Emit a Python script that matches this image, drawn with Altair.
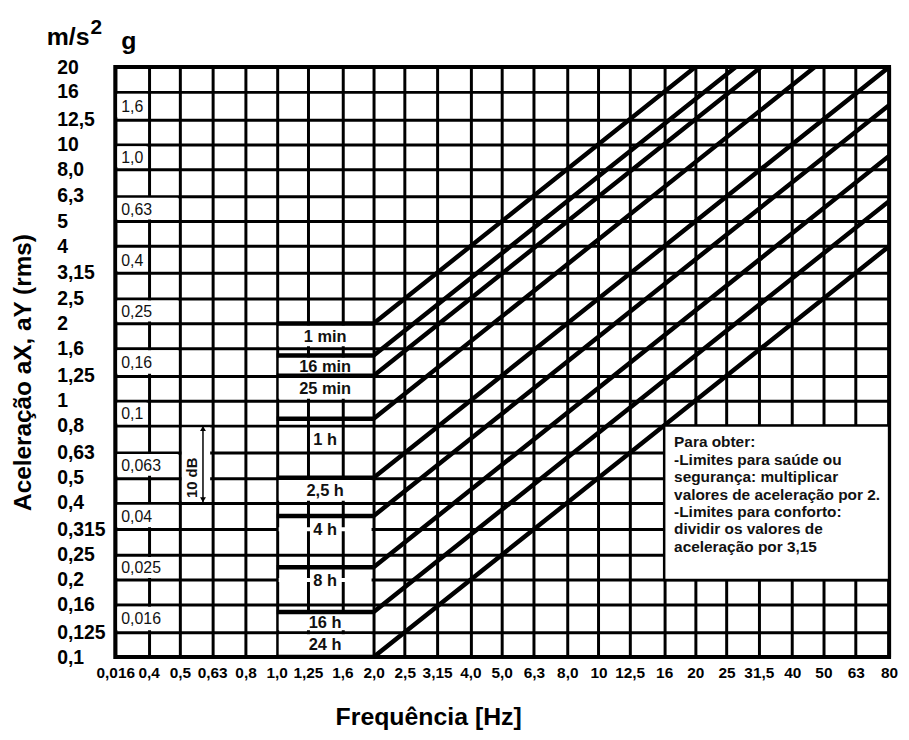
import json
import math
import altair as alt
import pandas as pd

FONT = "Liberation Sans"

# ---------------- axes ----------------
freq_ticks = [0.315, 0.4, 0.5, 0.63, 0.8, 1.0, 1.25, 1.6, 2.0, 2.5, 3.15, 4.0, 5.0,
              6.3, 8.0, 10, 12.5, 16, 20, 25, 31.5, 40, 50, 63, 80]
freq_labels = ["0,016", "0,4", "0,5", "0,63", "0,8", "1,0", "1,25", "1,6", "2,0", "2,5",
               "3,15", "4,0", "5,0", "6,3", "8,0", "10", "12,5", "16", "20", "25",
               "31,5", "40", "50", "63", "80"]
acc_ticks = [20, 16, 12.5, 10, 8, 6.3, 5, 4, 3.15, 2.5, 2, 1.6, 1.25, 1, 0.8, 0.63,
             0.5, 0.4, 0.315, 0.25, 0.2, 0.16, 0.125, 0.1]
acc_labels = ["20", "16", "12,5", "10", "8,0", "6,3", "5", "4", "3,15", "2,5", "2",
              "1,6", "1,25", "1", "0,8", "0,63", "0,5", "0,4", "0,315", "0,25", "0,2",
              "0,16", "0,125", "0,1"]

# ---------------- exposure curves ----------------
curve_names = ["1 min", "16 min", "25 min", "1 h", "2,5 h", "4 h", "8 h", "16 h", "24 h"]
curve_level = [2.0, 1.5, 1.25, 0.85, 0.5, 0.355, 0.224, 0.15, 0.1]   # 1-2 Hz plateau
curve_end_f = [20, 26.7, 32, 47, 80, 80, 80, 80, 80]                 # where line leaves chart
curve_end_a = [20, 20, 20, 20, 20, 14.2, 9.0, 6.0, 4.0]
plateau_f = [1.0, 2.0]
curve_label_a = [1.79, 1.37, 1.12, 0.71, 0.447, 0.315, 0.2, 0.137, 0.112]

# white label boxes in the 1-2 Hz band
tbox_top = [2.0, 1.5, 1.25, 0.5, 0.15, 0.125]
tbox_bottom = [1.6, 1.25, 1.0, 0.4, 0.125, 0.1]
hidden_rows = [0.315, 0.2]

# ---------------- g column ----------------
g_labels = ["1,6", "1,0", "0,63", "0,4", "0,25", "0,16", "0,1", "0,063", "0,04", "0,025", "0,016"]
g_row_top = [16, 10, 6.3, 4, 2.5, 1.6, 1.0, 0.63, 0.4, 0.25, 0.16]
g_row_bottom = [12.5, 8, 5, 3.15, 2, 1.25, 0.8, 0.5, 0.315, 0.2, 0.125]
g_col_right = [0.4, 0.4, 0.5, 0.4, 0.5, 0.5, 0.4, 0.5, 0.5, 0.5, 0.5]

note_lines = ["Para obter:",
              "-Limites para saúde ou",
              "segurança: multiplicar",
              "valores de aceleração por 2.",
              "-Limites para conforto:",
              "dividir os valores de",
              "aceleração por 3,15"]

# ---------------- data frames ----------------
rows = []
for n, lv, ef, ea in zip(curve_names, curve_level, curve_end_f, curve_end_a):
    for f in plateau_f:
        rows.append({"curve": n, "f": f, "a": lv})
    rows.append({"curve": n, "f": ef, "a": ea})
curves_df = pd.DataFrame(rows)

box_rows = []
for top, bot, cr in zip(g_row_top, g_row_bottom, g_col_right):
    box_rows.append({"f1": freq_ticks[0], "f2": cr, "a1": top, "a2": bot})
for top, bot in zip(tbox_top, tbox_bottom):
    box_rows.append({"f1": 1.0, "f2": 2.0, "a1": top, "a2": bot})
box_rows.append({"f1": 0.5, "f2": 0.63, "a1": 0.8, "a2": 0.4})  # behind the 10 dB marker
boxes_df = pd.DataFrame(box_rows)

hidden_df = pd.DataFrame({"f1": [1.0] * len(hidden_rows), "f2": [2.0] * len(hidden_rows),
                          "a": hidden_rows})

g_text_df = pd.DataFrame({"t": g_labels, "f": [freq_ticks[0]] * len(g_labels),
                          "a": [math.sqrt(t * b) for t, b in zip(g_row_top, g_row_bottom)]})
t_text_df = pd.DataFrame({"t": curve_names, "f": [math.sqrt(2.0)] * len(curve_names),
                          "a": curve_label_a})
note_df = pd.DataFrame({"f1": [16], "f2": [80], "a1": [0.8], "a2": [0.2],
                        "t": ["\n".join(note_lines)]})
db_df = pd.DataFrame({"f": [0.545], "a": [0.5], "t": ["10 dB"]})
arrow_df = pd.DataFrame({"f": [0.59], "a1": [0.8], "a2": [0.4]})
head_up_df = pd.DataFrame({"f": [0.59], "a": [0.8]})
head_dn_df = pd.DataFrame({"f": [0.59], "a": [0.4]})

# ---------------- scales / axes ----------------
x_scale = alt.Scale(type="log", domain=[0.315, 80], nice=False)
y_scale = alt.Scale(type="log", domain=[0.1, 20], nice=False)

x_axis = alt.Axis(
    values=freq_ticks,
    labelExpr=f"{json.dumps(freq_labels)}[indexof({json.dumps(freq_ticks)}, datum.value)]",
    grid=True, gridColor="#000", gridWidth=3, gridOpacity=1,
    domain=False, ticks=False, tickSize=0,
    labelFont=FONT, labelFontSize=15.5, labelFontWeight="bold", labelColor="#000",
    labelPadding=9, labelFlush=False, labelOverlap=False,
    title="Frequência [Hz]", titleFont=FONT, titleFontSize=25, titleFontWeight="bold",
    titleColor="#000", titleX=315, titleY=68, titleAlign="center",
    titleBaseline="alphabetic", titleAngle=0)
y_axis = alt.Axis(
    values=acc_ticks,
    labelExpr=f"{json.dumps(acc_labels)}[indexof({json.dumps(acc_ticks)}, datum.value)]",
    grid=True, gridColor="#000", gridWidth=3, gridOpacity=1,
    domain=False, ticks=False, tickSize=0,
    labelFont=FONT, labelFontSize=19.5, labelFontWeight="bold", labelColor="#000",
    labelAlign="left", labelBaseline="middle", labelPadding=59, labelOverlap=False,
    labelFlush=False,
    title="Aceleração aX, aY (rms)", titleFont=FONT, titleFontSize=24.5,
    titleFontWeight="bold", titleColor="#000", titleAngle=270, titleX=-85, titleY=307,
    titleAlign="center", titleBaseline="alphabetic")


def X(field):
    return alt.X(field, type="quantitative", scale=x_scale, axis=x_axis)


def Y(field):
    return alt.Y(field, type="quantitative", scale=y_scale, axis=y_axis)


boxes = alt.Chart(boxes_df).mark_rect(
    fill="white", xOffset=2, x2Offset=-2, yOffset=2, y2Offset=-2
).encode(x=X("f1"), x2="f2", y=Y("a1"), y2="a2")

hidden = alt.Chart(hidden_df).mark_rule(
    color="white", strokeWidth=4, xOffset=2, x2Offset=-2
).encode(x=X("f1"), x2="f2", y=Y("a"))

curves = alt.Chart(curves_df).mark_line(
    color="#000", strokeWidth=4.5, clip=True
).encode(x=X("f"), y=Y("a"), detail="curve:N")

note_box = alt.Chart(note_df).mark_rect(
    fill="white", stroke="#000", strokeWidth=2.5
).encode(x=X("f1"), x2="f2", y=Y("a1"), y2="a2")

note_text = alt.Chart(note_df).mark_text(
    align="left", baseline="alphabetic", lineBreak="\n", lineHeight=17.5,
    dx=10, dy=22, font=FONT, fontSize=15.5, fontWeight="bold", color="#111"
).encode(x=X("f1"), y=Y("a1"), text="t:N")

g_text = alt.Chart(g_text_df).mark_text(
    align="left", baseline="middle", dx=6, dy=1, font=FONT, fontSize=16, color="#111"
).encode(x=X("f"), y=Y("a"), text="t:N")

t_text = alt.Chart(t_text_df).mark_text(
    align="center", baseline="middle", dy=1, font=FONT, fontSize=16.5,
    fontWeight="bold", color="#111"
).encode(x=X("f"), y=Y("a"), text="t:N")

db_text = alt.Chart(db_df).mark_text(
    align="center", baseline="middle", angle=270, font=FONT, fontSize=15,
    fontWeight="bold", color="#111"
).encode(x=X("f"), y=Y("a"), text="t:N")

arrow = alt.Chart(arrow_df).mark_rule(color="#000", strokeWidth=1.5).encode(
    x=X("f"), y=Y("a1"), y2="a2")
head_up = alt.Chart(head_up_df).mark_point(
    shape="triangle-up", filled=True, color="#000", size=35, yOffset=3, opacity=1
).encode(x=X("f"), y=Y("a"))
head_dn = alt.Chart(head_dn_df).mark_point(
    shape="triangle-down", filled=True, color="#000", size=35, yOffset=-3, opacity=1
).encode(x=X("f"), y=Y("a"))

hdr_df = pd.DataFrame({"m": ["m/s"], "two": ["2"], "g": ["g"]})
hdr_ms = alt.Chart(hdr_df).mark_text(
    align="left", baseline="alphabetic", font=FONT, fontSize=25, fontWeight="bold",
    color="#000").encode(x=alt.value(-69), y=alt.value(-22), text="m:N")
hdr_2 = alt.Chart(hdr_df).mark_text(
    align="left", baseline="alphabetic", font=FONT, fontSize=21, fontWeight="bold",
    color="#000").encode(x=alt.value(-25), y=alt.value(-33), text="two:N")
hdr_g = alt.Chart(hdr_df).mark_text(
    align="left", baseline="alphabetic", font=FONT, fontSize=25, fontWeight="bold",
    color="#000").encode(x=alt.value(6), y=alt.value(-18), text="g:N")

chart = alt.layer(
    boxes, hidden, curves, note_box, note_text, g_text, t_text, db_text,
    arrow, head_up, head_dn, hdr_ms, hdr_2, hdr_g
).properties(
    width=779, height=594,
    autosize=alt.AutoSizeParams(type="none"),
    padding={"left": 108, "top": 57, "right": 12, "bottom": 76},
    background="white",
).configure_view(stroke="#000", strokeWidth=4)

chart.save("out.html", embed_options={"renderer": "svg", "actions": False})
